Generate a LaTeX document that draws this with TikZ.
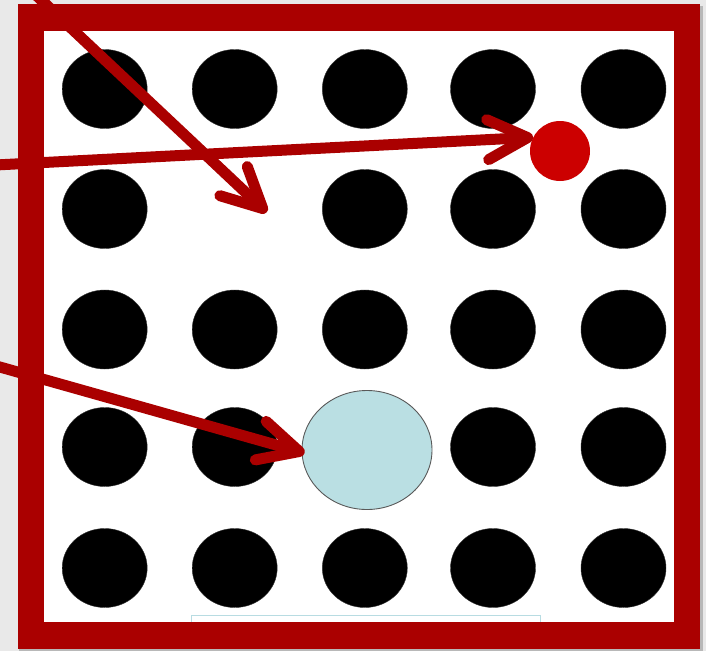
\documentclass[tikz,border=0pt]{standalone}
\usetikzlibrary{shapes.geometric,arrows.meta}
\definecolor{bgmarble}{HTML}{E9E9E9}
\definecolor{framered}{HTML}{AA0000}
\definecolor{dotred}{HTML}{CC0000}
\definecolor{paleblue}{HTML}{BADFE3}
\definecolor{faintbox}{HTML}{B8DCE2}
\tikzset{
  blackdot/.style={ellipse, fill=black, draw=black!80, line width=0.4pt, minimum width=85pt, minimum height=79pt, inner sep=0pt},
  reddot/.style={circle, fill=dotred, minimum size=60pt, inner sep=0pt},
  bluedot/.style={ellipse, fill=paleblue, draw=black!65, line width=0.9pt, minimum width=130pt, minimum height=119pt, inner sep=0pt},
  pointer/.style={draw=framered, line width=11pt, line cap=round, -{Straight Barb[length=40pt,width=40pt,round]}},
}
\begin{document}
\begin{tikzpicture}[x=1pt,y=-1pt]
\useasboundingbox (0,0) rectangle (706,651);
\clip (0,0) rectangle (706,651);
% background
\fill[bgmarble] (0,0) rectangle (706,651);
% shadow of the frame
\fill[black!28] (19,6) rectangle (703,651);
% white interior
\fill[white] (31,17.5) rectangle (687,635.5);
% faint box partly hidden by the frame
\draw[faintbox, line width=1pt] (191,615.5) rectangle (540,640);
% grid of black dots
\foreach \r/\y in {1/89,2/209,3/329.5,4/447,5/568}{
  \foreach \c/\x in {1/104.7,2/234.7,3/364.8,4/493,5/623.5}{
    \pgfmathsetmacro{\skip}{(\r==2 && \c==2) || (\r==4 && \c==3) ? 1 : 0}
    \ifdim\skip pt<0.5pt
      \node[blackdot] (d\r\c) at (\x,\y) {};
    \fi
  }
}
% highlighted dots
\node[bluedot] (blue) at (367,450) {};
\node[reddot] (red) at (560,151) {};
% frame
\draw[framered, line width=26.5pt] (31,17.5) rectangle (687,635.5);
% arrows
\coordinate (s1) at (20,-20);
\coordinate (gap) at (266.7,212.3);
\coordinate (s2) at (-20,165.8);
\coordinate (s3) at (-20,361.4);
\draw[pointer] (s1) -- (gap);
\draw[pointer] (s2) -- (red.153);
\draw[pointer] (s3) -- ([shift={(3,3)}]blue.west);
\end{tikzpicture}
\end{document}
